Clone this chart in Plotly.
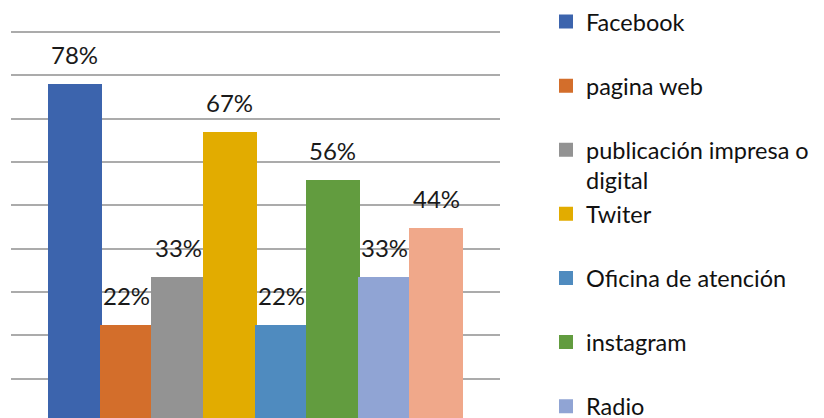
import plotly.graph_objects as go

categories = ["Facebook", "pagina web", "publicación impresa o<br>digital", "Twiter",
              "Oficina de atención", "instagram", "Radio", "Otro"]
values = [7/9, 2/9, 3/9, 6/9, 2/9, 5/9, 3/9, 4/9]
labels = ["78%", "22%", "33%", "67%", "22%", "56%", "33%", "44%"]
colors = ["#3C64AD", "#D36E2B", "#939393", "#E2AC00", "#4F8BBF", "#629C3F", "#90A4D4", "#F0A88A"]
in_legend = [True, True, True, True, True, True, True, False]

FONT = "Lato"
fig = go.Figure()
last_visible = max(i for i, s in enumerate(in_legend) if s)
for i, (cat, v, c) in enumerate(zip(categories, values, colors)):
    name = cat if ("<br>" in cat or i == last_visible) else cat + "<br> "
    fig.add_trace(go.Bar(
        x=[cat], y=[v], name=name, width=1,
        marker=dict(color=c, line=dict(color=c, width=2)),
        legendgroup=f"g{i}", showlegend=in_legend[i], hoverinfo="skip",
    ))
    fig.add_annotation(x=cat, y=v, text=labels[i], showarrow=False,
                       yanchor="bottom", yshift=14,
                       font=dict(family=FONT, size=24, color="#1a1a1a"))

fig.update_layout(
    width=824, height=418,
    margin=dict(l=3, r=332, t=23, b=0, autoexpand=False),
    paper_bgcolor="white", plot_bgcolor="white",
    barmode="overlay", bargap=0,
    showlegend=True,
    legend=dict(x=(538 - 3) / 489, xref="paper", xanchor="left",
                y=1.079, yref="paper", yanchor="top",
                valign="top", tracegroupgap=0, maxheight=2000,
                font=dict(family=FONT, size=23.5, color="#111111"),
                bgcolor="rgba(0,0,0,0)"),
    xaxis=dict(type="category", range=[-1.236, 8.236], showticklabels=False,
               showgrid=False, zeroline=False, showline=False, ticks=""),
    yaxis=dict(range=[-0.0092, 0.9025], dtick=0.1, tick0=0, showticklabels=False,
               showgrid=True, gridcolor="#ababab", gridwidth=1.5,
               zeroline=False, showline=False, ticks=""),
)
fig.write_html("out.html")
